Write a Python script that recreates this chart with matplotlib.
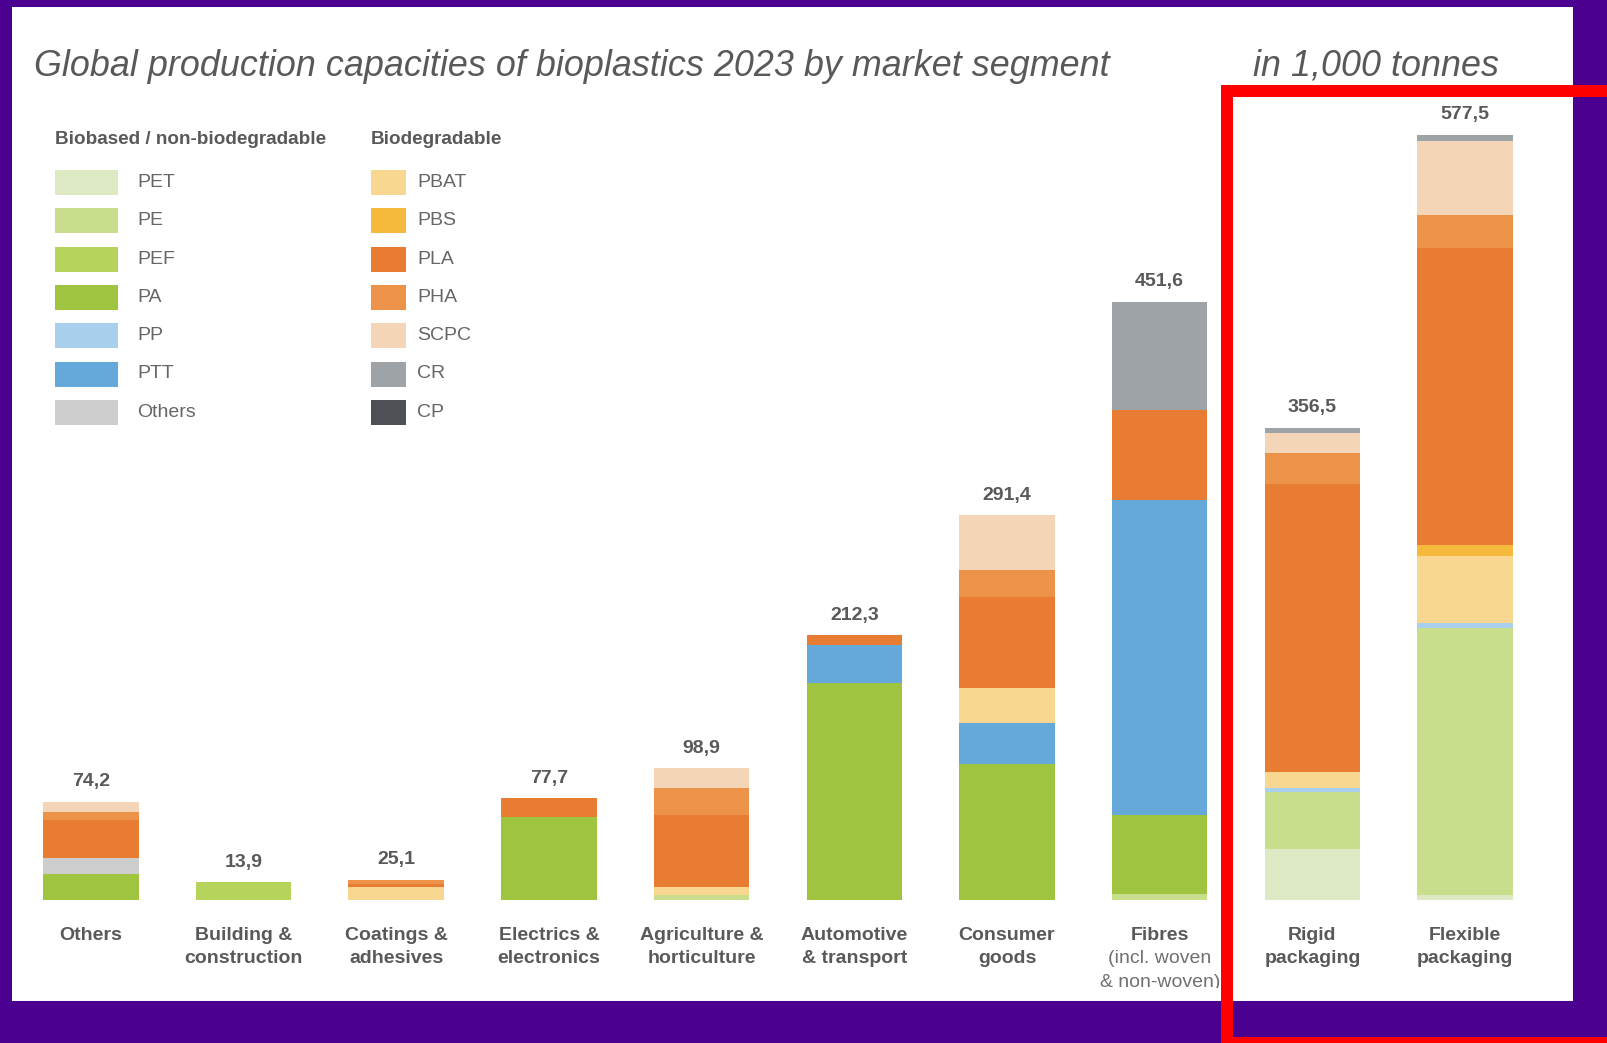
import numpy as np
import matplotlib.pyplot as plt
from matplotlib.patches import Rectangle

plt.rcParams['font.family'] = ['Liberation Sans', 'DejaVu Sans']

# market segments (left to right)
categories = ["Others", "Building &\nconstruction", "Coatings &\nadhesives",
              "Electrics &\nelectronics", "Agriculture &\nhorticulture",
              "Automotive\n& transport", "Consumer\ngoods", "Fibres",
              "Rigid\npackaging", "Flexible\npackaging"]
fibres_note = ["(incl. woven", "& non-woven)"]
totals = ["74,2", "13,9", "25,1", "77,7", "98,9", "212,3", "291,4", "451,6", "356,5", "577,5"]

# materials, stacked bottom to top
materials = ["PET", "PE", "PEF", "PA", "Others", "PP", "PTT",
             "PBAT", "PBS", "PLA", "PHA", "SCPC", "CR", "CP"]
PET    = [0,    0,    0,   0,    0,    0,     0,     0,     38.3,  3.8]
PE     = [0,    0,    0,   0,    3.8,  0,     0,     4.5,   43.0,  201.3]
PEF    = [0,    13.5, 0,   0,    0,    0,     0,     0,     0,     0]
PA     = [19.7, 0,    0,   62.9, 0,    163.6, 102.7, 59.6,  0,     0]
OTHERS = [11.8, 0,    0,   0,    0,    0,     0,     0,     0,     0]
PP     = [0,    0,    0,   0,    0,    0,     0,     0,     3.5,   4.2]
PTT    = [0,    0,    0,   0,    0,    28.9,  30.7,  237.8, 0,     0]
PBAT   = [0,    0,    9.5, 0,    6.3,  0,     26.4,  0,     11.6,  50.4]
PBS    = [0,    0,    0,   0,    0,    0,     0,     0,     0,     8.3]
PLA    = [28.9, 0,    2.8, 13.9, 54.1, 7.5,   69.2,  67.9,  217.6, 224.0]
PHA    = [6.3,  0,    2.8, 0,    20.6, 0,     20.1,  0,     23.6,  25.1]
SCPC   = [7.5,  0,    0,   0,    14.6, 0,     41.5,  0,     14.6,  55.9]
CR     = [0,    0,    0,   0,    0,    0,     0,     81.8,  4.2,   4.5]
CP     = [0,    0,    0,   0,    0,    0,     0,     0,     0,     0]
series = [PET, PE, PEF, PA, OTHERS, PP, PTT, PBAT, PBS, PLA, PHA, SCPC, CR, CP]

colours = {"PET": "#dde9c2", "PE": "#c9de8c", "PEF": "#b6d35b", "PA": "#9fc43f",
           "PP": "#a8d0ec", "PTT": "#65a8da", "Others": "#cdcdcd",
           "PBAT": "#f8d891", "PBS": "#f5ba3c", "PLA": "#e97c33", "PHA": "#ec9249",
           "SCPC": "#f5d5b8", "CR": "#9ea3a7", "CP": "#4d5156"}

legend_left = ["PET", "PE", "PEF", "PA", "PP", "PTT", "Others"]
legend_right = ["PBAT", "PBS", "PLA", "PHA", "SCPC", "CR", "CP"]

W, H = 1608, 1043
fig = plt.figure(figsize=(W / 100, H / 100), dpi=100)
fig.patch.set_facecolor("#4b0090")

# background layer in pixel coordinates
bg = fig.add_axes([0, 0, 1, 1])
bg.set_xlim(0, W)
bg.set_ylim(H, 0)
bg.axis("off")
bg.add_patch(Rectangle((12, 7), 1561, 994, facecolor="white", edgecolor="none"))

txt = "#59595b"
bg.text(34, 76, "Global production capacities of bioplastics 2023 by market segment",
        fontsize=25.8, style="italic", color=txt, va="baseline")
bg.text(1253, 76, "in 1,000 tonnes", fontsize=25.8, style="italic", color=txt, va="baseline")

bg.text(55, 140, "Biobased / non-biodegradable", fontsize=13.6, fontweight="bold",
        color=txt, va="center")
bg.text(371, 140, "Biodegradable", fontsize=13.6, fontweight="bold", color=txt, va="center")
for i, (a, b) in enumerate(zip(legend_left, legend_right)):
    yc = 182.5 + 38.3 * i
    bg.add_patch(Rectangle((55, yc - 12.5), 63, 25, facecolor=colours[a], edgecolor="none"))
    bg.text(137, yc, a, fontsize=14, color="#666666", va="center")
    bg.add_patch(Rectangle((371, yc - 12.5), 35, 25, facecolor=colours[b], edgecolor="none"))
    bg.text(417, yc, b, fontsize=14, color="#666666", va="center")

# bar layer: baseline at 900 px from top, 1.3247 px per 1,000 t
k = 1.3247
ax = fig.add_axes([0, 55 / H, 1, (H - 55) / H])
ax.set_facecolor("none")
ax.axis("off")
ax.set_ylim(-88 / k, (H - 55 - 88) / k)
ax.set_xlim(-90.8 / 152.7, (W - 90.8) / 152.7)

x = np.arange(len(categories))
bottom = np.zeros(len(categories))
for name, vals in zip(materials, series):
    vals = np.array(vals, dtype=float)
    ax.bar(x, vals, width=0.625, bottom=bottom, color=colours[name], linewidth=0)
    bottom += vals

for xi, top, lab in zip(x, bottom, totals):
    ax.annotate(lab, (xi, top), xytext=(0, 14.4), textcoords="offset points",
                ha="center", va="center", fontsize=14, fontweight="bold", color=txt)

# category labels, one line at a time, 23.8 px apart
for xi, lab in zip(x, categories):
    for j, line in enumerate(lab.split("\n")):
        ax.text(xi, -(35 + 23.8 * j) / k, line, ha="center", va="center", fontsize=14,
                fontweight="bold", color=txt, clip_on=True)
for j, line in enumerate(fibres_note):
    ax.text(x[7], -(35 + 23.8 * (j + 1)) / k, line, ha="center", va="center",
            fontsize=14, color="#707070", clip_on=True)

# red highlight frame
fig.add_artist(Rectangle((1227 / W, (H - 1043) / H), (1613 - 1227) / W, (1043 - 91) / H,
                         transform=fig.transFigure, fill=False, edgecolor="#ff0000",
                         linewidth=8.64, zorder=10))

fig.savefig("out.png", dpi=100, facecolor=fig.get_facecolor())
